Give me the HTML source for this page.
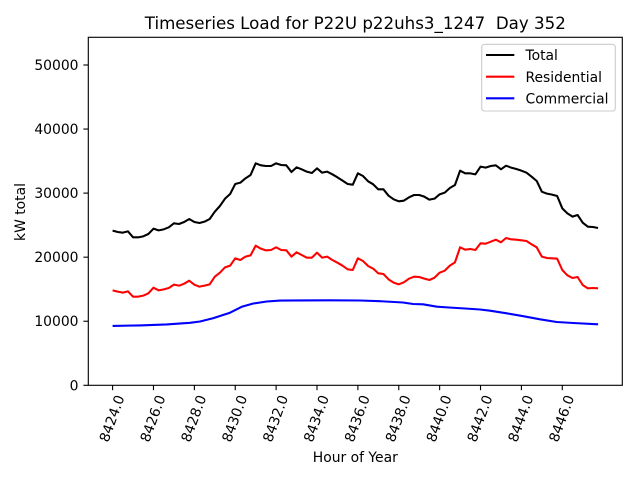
<!DOCTYPE html>
<html>
<head>
<meta charset="utf-8">
<style>
  html, body { margin: 0; padding: 0; background: #ffffff; }
  svg { display: block; }
  text { font-family: "DejaVu Sans", "Liberation Sans", sans-serif; fill: #000; }
</style>
</head>
<body>
<svg width="640" height="480" viewBox="0 0 640 480" xmlns="http://www.w3.org/2000/svg">
  <rect x="0" y="0" width="640" height="480" fill="#ffffff"/>
  <!-- axes background -->
  <rect x="88.3" y="37.3" width="534" height="348" fill="#ffffff"/>

  <!-- series -->
  <g transform="translate(112.6,150) scale(5.11,0.333333)">
    <polyline fill="none" stroke="#000000" stroke-width="2.08" vector-effect="non-scaling-stroke" stroke-linejoin="round"
      points="0,242 1,246 2,248 3,244 4,262 5,262 6,259 7,252 8,236 9,241 10,238 11,232 12,220 13,222 14,216 15,207 16,216 17,219 18,215 19,207 20,185 21,168 22,146 23,132 24,102 25,98 26,85 27,75 28,40 29,46 30,48 31,48 32,40 33,45 34,46 35,66 36,52 37,58 38,65 39,69 40,55 41,68 42,65 43,73 44,82 45,92 46,102 47,104 48,70 49,78 50,94 51,103 52,118 53,118 54,137 55,148 56,154 57,152 58,142 59,135 60,135 61,140 62,149 63,146 64,133 65,128 66,114 67,105 68,62 69,70 70,70 71,73 72,50 73,53 74,48 75,46 76,58 77,47 78,53 79,57 80,62 81,68 82,80 83,93 84,125 85,131 86,134 87,138 88,175 89,190 90,200 91,195 92,218 93,230 94,231 95,234"/>
    <polyline fill="none" stroke="#ff0000" stroke-width="2.08" vector-effect="non-scaling-stroke" stroke-linejoin="round"
      points="0,421 1,425 2,428 3,424 4,440 5,440 6,437 7,430 8,413 9,421 10,418 11,414 12,404 13,407 14,401 15,392 16,404 17,410 18,407 19,403 20,380 21,368 22,352 23,347 24,325 25,330 26,320 27,316 28,287 29,296 30,301 31,300 32,292 33,300 34,301 35,320 36,307 37,315 38,323 39,323 40,308 41,323 42,320 43,330 44,338 45,347 46,358 47,360 48,325 49,333 50,348 51,356 52,370 53,372 54,388 55,398 56,403 57,397 58,386 59,380 60,381 61,386 62,390 63,383 64,368 65,362 66,347 67,337 68,292 69,299 70,297 71,300 72,280 73,281 74,275 75,269 76,277 77,264 78,268 79,269 80,271 81,273 82,283 83,292 84,320 85,324 86,325 87,326 88,360 89,376 90,384 91,381 92,405 93,415 94,414 95,415"/>
  </g>
  <polyline fill="none" stroke="#0000ff" stroke-width="2.08" stroke-linejoin="round"
    points="112.6,325.9 140,325.4 166.7,324.4 190,322.8 200,321.5 213,318.3 230,312.7 241.7,306.8 253.3,303.5 266.7,301.5 280,300.6 300,300.4 330,300.3 360,300.5 380,301.2 403,302.5 413,304 423,304.3 437,306.7 449,307.5 465,308.5 480,309.5 490,310.7 506.7,313.3 523.3,316.2 540,319.3 556.7,322 573.3,323 598.1,324.3"/>

  <!-- spines -->
  <rect x="88.3" y="37.3" width="534" height="348" fill="none" stroke="#000" stroke-width="1.11"/>

  <!-- y ticks -->
  <g stroke="#000" stroke-width="1.11">
    <line x1="83.4" y1="385.3" x2="88.3" y2="385.3"/>
    <line x1="83.4" y1="321.24" x2="88.3" y2="321.24"/>
    <line x1="83.4" y1="257.18" x2="88.3" y2="257.18"/>
    <line x1="83.4" y1="193.12" x2="88.3" y2="193.12"/>
    <line x1="83.4" y1="129.06" x2="88.3" y2="129.06"/>
    <line x1="83.4" y1="65.0" x2="88.3" y2="65.0"/>
  </g>
  <g font-size="13.89" text-anchor="end">
    <text x="78.5" y="390.3">0</text>
    <text x="78.5" y="326.2">10000</text>
    <text x="78.5" y="262.2">20000</text>
    <text x="78.5" y="198.1">30000</text>
    <text x="78.5" y="134.1">40000</text>
    <text x="78.5" y="70.0">50000</text>
  </g>

  <!-- x ticks -->
  <g stroke="#000" stroke-width="1.11">
    <line x1="112.6" y1="385.3" x2="112.6" y2="390.2"/>
    <line x1="153.48" y1="385.3" x2="153.48" y2="390.2"/>
    <line x1="194.36" y1="385.3" x2="194.36" y2="390.2"/>
    <line x1="235.24" y1="385.3" x2="235.24" y2="390.2"/>
    <line x1="276.12" y1="385.3" x2="276.12" y2="390.2"/>
    <line x1="317.0" y1="385.3" x2="317.0" y2="390.2"/>
    <line x1="357.88" y1="385.3" x2="357.88" y2="390.2"/>
    <line x1="398.76" y1="385.3" x2="398.76" y2="390.2"/>
    <line x1="439.64" y1="385.3" x2="439.64" y2="390.2"/>
    <line x1="480.52" y1="385.3" x2="480.52" y2="390.2"/>
    <line x1="521.4" y1="385.3" x2="521.4" y2="390.2"/>
    <line x1="562.28" y1="385.3" x2="562.28" y2="390.2"/>
  </g>
  <g font-size="13.89">
    <text transform="translate(108.1,443) rotate(-70)">8424.0</text>
    <text transform="translate(148.98,443) rotate(-70)">8426.0</text>
    <text transform="translate(189.86,443) rotate(-70)">8428.0</text>
    <text transform="translate(230.74,443) rotate(-70)">8430.0</text>
    <text transform="translate(271.62,443) rotate(-70)">8432.0</text>
    <text transform="translate(312.5,443) rotate(-70)">8434.0</text>
    <text transform="translate(353.38,443) rotate(-70)">8436.0</text>
    <text transform="translate(394.26,443) rotate(-70)">8438.0</text>
    <text transform="translate(435.14,443) rotate(-70)">8440.0</text>
    <text transform="translate(476.02,443) rotate(-70)">8442.0</text>
    <text transform="translate(516.9,443) rotate(-70)">8444.0</text>
    <text transform="translate(557.78,443) rotate(-70)">8446.0</text>
  </g>

  <!-- axis labels -->
  <text x="355.3" y="462" font-size="13.89" text-anchor="middle">Hour of Year</text>
  <text x="25" y="212" font-size="13.89" text-anchor="middle" transform="rotate(-90,25,212)">kW total</text>

  <!-- title -->
  <text x="355.3" y="29" font-size="16.67" text-anchor="middle" style="white-space:pre" xml:space="preserve">Timeseries Load for P22U p22uhs3_1247  Day 352</text>

  <!-- legend -->
  <rect x="481.7" y="44.3" width="133.6" height="66.7" rx="2.8" ry="2.8" fill="#ffffff" fill-opacity="0.8" stroke="#cccccc" stroke-width="1.1"/>
  <line x1="486" y1="55" x2="514.3" y2="55" stroke="#000000" stroke-width="2.08"/>
  <line x1="486" y1="76.7" x2="514.3" y2="76.7" stroke="#ff0000" stroke-width="2.08"/>
  <line x1="486" y1="98.3" x2="514.3" y2="98.3" stroke="#0000ff" stroke-width="2.08"/>
  <g font-size="13.89">
    <text x="525.5" y="60.2">Total</text>
    <text x="525.5" y="81.9">Residential</text>
    <text x="525.5" y="103.5">Commercial</text>
  </g>
</svg>
</body>
</html>
